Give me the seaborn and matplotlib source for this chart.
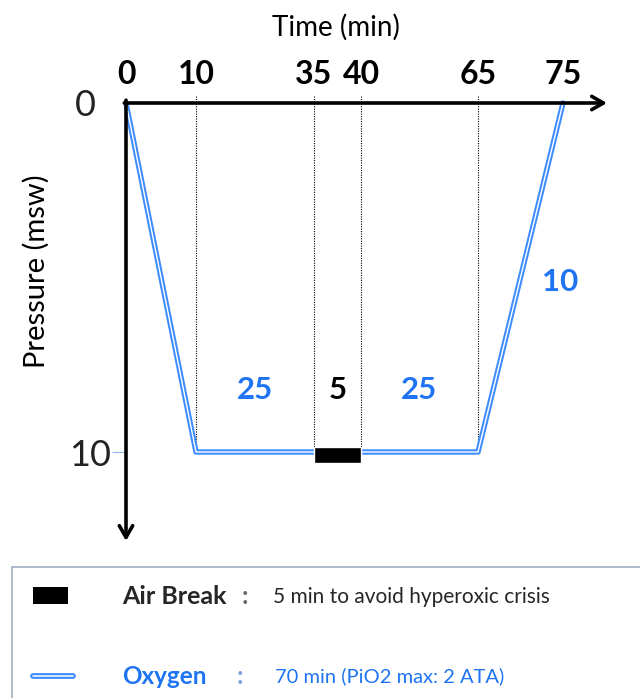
import numpy as np
import matplotlib
matplotlib.use("Agg")
import matplotlib.pyplot as plt
import matplotlib.transforms as mtrans
from matplotlib.patches import Rectangle
from matplotlib.lines import Line2D
import pandas as pd
import seaborn as sns

# ---------------- data ----------------
profile_time = [0, 10, 65, 75]          # min
profile_depth = [0, 10, 10, 0]          # msw
break_start = 35
break_end = 40
break_depth = 10
tick_times = [0, 10, 35, 40, 65, 75]
marker_times = [10, 35, 40, 65]
depth_ticks = [0, 10]
bottom_labels = ["25", "5", "25"]
bottom_colors = ["blue", "black", "blue"]
ascent_label = "10"

BLUE_LINE = "#3f8cff"
BLUE_TEXT = "#1e74f2"

sns.set_theme(style="white")
plt.rcParams["font.family"] = ["Lato", "DejaVu Sans"]

W, H = 640, 698
fig = plt.figure(figsize=(W / 100, H / 100), dpi=100)
ax = fig.add_axes([0, 0, 1, 1])

# schematic (piecewise-linear) time scale as in the original drawing
knot_t = np.array([-20, 0, 10, 35, 40, 65, 75, 95])
knot_p = np.array([-14, 126, 196, 314, 361, 478, 563, 733])


def fwd(t):
    return np.interp(t, knot_t, knot_p)


def inv(p):
    return np.interp(p, knot_p, knot_t)


ax.set_xscale("function", functions=(fwd, inv))
ax.set_xlim(inv(0), inv(W))
y0_px, y10_px = 103, 452
ppu = (y10_px - y0_px) / 10.0
ax.set_ylim((H - y0_px) / ppu, -y0_px / ppu)

# dotted guides
ax.vlines(marker_times, -0.2, break_depth, colors="black", linestyles=(0, (1, 1.2)), lw=0.8, zorder=2)

# oxygen profile (double line)
df = pd.DataFrame({"time": profile_time, "depth": profile_depth})
sns.lineplot(data=df, x="time", y="depth", sort=False, color=BLUE_LINE, lw=3.9, ax=ax, zorder=3)
sns.lineplot(data=df, x="time", y="depth", sort=False, color="white", lw=1.0, ax=ax, zorder=4)

# air break
ax.bar(break_start, 0.46, width=break_end - break_start, bottom=break_depth - 0.15,
       align="edge", color="black", zorder=5)

# axes arrows
ax.annotate("", xy=(inv(607), 0), xytext=(-0.25, 0),
            arrowprops=dict(arrowstyle="->,head_length=0.7,head_width=0.4", lw=2.6, color="black",
                            shrinkA=0, shrinkB=0), zorder=6)
ax.annotate("", xy=(0, (541 - y0_px) / ppu), xytext=(0, -0.08),
            arrowprops=dict(arrowstyle="->,head_length=0.7,head_width=0.4", lw=2.6, color="black",
                            shrinkA=0, shrinkB=0), zorder=6)

# ticks
for s in ["left", "right", "bottom", "top"]:
    ax.spines[s].set_color("none")
ax.spines["top"].set_position(("data", 0))
ax.spines["left"].set_position(("data", 0))
ax.xaxis.set_ticks_position("top")
ax.xaxis.set_label_position("top")
ax.set_xticks(tick_times)
ax.set_xticklabels([str(t) for t in tick_times], fontsize=23, fontweight="bold")
ax.tick_params(axis="x", length=0, pad=10, colors="black")
ax.yaxis.set_ticks_position("left")
ax.set_yticks(depth_ticks)
ax.set_yticklabels([str(d) for d in depth_ticks], fontsize=26)
ax.tick_params(axis="y", length=10, width=0.8, color="#8fb6f5", pad=1, labelcolor="#222222")
ax.yaxis.get_majorticklines()[0].set_visible(False)
lab0 = ax.get_yticklabels()[0]
lab0.set_transform(lab0.get_transform() + mtrans.ScaledTranslation(-0.15, 0, fig.dpi_scale_trans))
ax.grid(False)
ax.set_xlabel("")
ax.set_ylabel("")

fig.text(336 / W, 1 - 27 / H, "Time (min)", ha="center", va="center", fontsize=20, color="black")
fig.text(36 / W, 1 - 271 / H, "Pressure (msw)", ha="center", va="center", rotation=90,
         fontsize=21, color="black")

# segment durations
mids = [(10 + break_start) / 2, (break_start + break_end) / 2, (break_end + 65) / 2]
for m, lab, c in zip(mids, bottom_labels, bottom_colors):
    ax.text(m, (390 - y0_px) / ppu, lab, ha="center", va="center", fontsize=22.5, fontweight="bold",
            color=BLUE_TEXT if c == "blue" else "black")
ax.text(inv(560), (282 - y0_px) / ppu, ascent_label, ha="center", va="center", fontsize=22.5,
        fontweight="bold", color=BLUE_TEXT)

# legend box
fig.add_artist(Rectangle((12 / W, -0.05), 1.0, (H - 567) / H + 0.05, transform=fig.transFigure,
                         fill=False, ec="#a7b4c6", lw=1.3))
fig.add_artist(Rectangle((33 / W, 1 - 604 / H), 35 / W, 17 / H, transform=fig.transFigure,
                         fc="black", ec="none"))
fig.text(122 / W, 1 - 597 / H, "Air Break", ha="left", va="center", fontsize=18, fontweight="bold")
fig.text(245 / W, 1 - 597 / H, ":", ha="center", va="center", fontsize=18, fontweight="bold", color="#666666")
fig.text(273 / W, 1 - 597 / H, "5 min to avoid hyperoxic crisis", ha="left", va="center", fontsize=15)
ly = 1 - 676 / H
fig.add_artist(Line2D([33 / W, 73 / W], [ly, ly], transform=fig.transFigure, color=BLUE_LINE, lw=4.2))
fig.add_artist(Line2D([33 / W, 73 / W], [ly, ly], transform=fig.transFigure, color="white", lw=1.1))
fig.text(122 / W, 1 - 676 / H, "Oxygen", ha="left", va="center", fontsize=17.5, fontweight="bold", color=BLUE_TEXT)
fig.text(240 / W, 1 - 676 / H, ":", ha="center", va="center", fontsize=18, fontweight="bold", color="#7a9fdc")
fig.text(275 / W, 1 - 676 / H, "70 min (PiO2 max: 2 ATA)", ha="left", va="center", fontsize=14.5,
         color=BLUE_TEXT)

fig.savefig("out.png", dpi=100)
